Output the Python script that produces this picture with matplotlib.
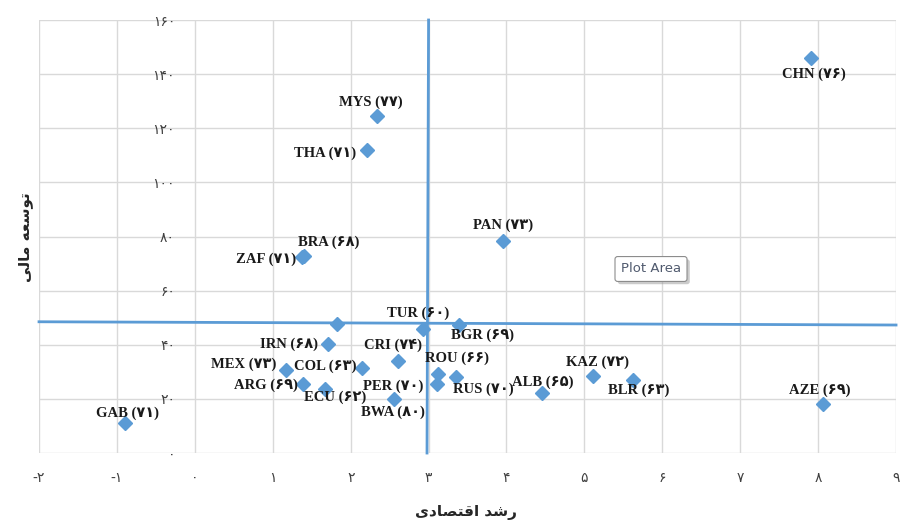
#!/bin/py
#
# financial development vs economic growth scatter (persian labels)
#
import numpy as np
import matplotlib
matplotlib.use('Agg')
import matplotlib.pyplot as plt
import matplotlib.patheffects as pe

# country data: growth (x), financial development (y), score in brackets
codes  = ['CHN','MYS','THA','PAN','BRA','ZAF','TUR','BGR','IRN','CRI','MEX','COL',
          'ROU','RUS','PER','ARG','ECU','BWA','GAB','ALB','KAZ','BLR','AZE','']
growth = [7.91, 2.34, 2.21, 3.96, 1.40, 1.38, 2.93, 3.39, 1.71, 2.61, 1.17, 2.15,
          3.12, 3.35, 3.11, 1.39, 1.67, 2.56, -0.90, 4.46, 5.11, 5.63, 8.06, 1.83]
findev = [145.9, 124.4, 111.9, 78.5, 72.8, 72.5, 45.9, 47.4, 40.4, 34.1, 30.7, 31.5,
          29.3, 28.1, 25.6, 25.6, 23.7, 20.0, 11.1, 22.2, 28.5, 27.0, 18.1, 47.8]
scores = [76, 77, 71, 73, 68, 71, 60, 69, 68, 74, 73, 63,
          66, 70, 70, 69, 62, 80, 71, 65, 72, 63, 69, None]

# average lines
hline_x = [-2, 9]
hline_y = [48.5, 47.3]
vline_x = [3.0, 2.98]
vline_y = [160, 0]

xticks = np.arange(-2, 10, 1)
yticks = np.arange(0, 161, 20)

xlabel = 'رشد اقتصادی'
ylabel = 'توسعه مالی'

# label offsets in pixels (dx, dy, ha)
label_pos = {
    'CHN': (3, -16, 'center'), 'MYS': (-6, 14, 'center'), 'THA': (-11, -3, 'right'),
    'PAN': (0, 15, 'center'), 'BRA': (25, 14, 'center'), 'ZAF': (-6, -2, 'right'),
    'TUR': (-5, 16, 'center'), 'BGR': (24, -11, 'center'), 'IRN': (-10, -1, 'right'),
    'CRI': (-5, 15, 'center'), 'MEX': (-10, 6, 'right'), 'COL': (-6, 2, 'right'),
    'ROU': (19, 15, 'center'), 'RUS': (27, -12, 'center'), 'PER': (-14, -3, 'right'),
    'ARG': (-5, -2, 'right'), 'ECU': (10, -8, 'center'), 'BWA': (-1, -13, 'center'),
    'GAB': (3, 10, 'center'), 'ALB': (0, 11, 'center'), 'KAZ': (5, 14, 'center'),
    'BLR': (5, -10, 'center'), 'AZE': (-3, 14, 'center'),
}

FA_DIGITS = str.maketrans('0123456789', '۰۱۲۳۴۵۶۷۸۹')

# arabic presentation forms: isolated, final, initial, medial
FORMS = {
    'ا': '\uFE8D\uFE8E', 'د': '\uFEA9\uFEAA', 'ر': '\uFEAD\uFEAE', 'و': '\uFEED\uFEEE',
    'ت': '\uFE95\uFE96\uFE97\uFE98', 'س': '\uFEB1\uFEB2\uFEB3\uFEB4',
    'ش': '\uFEB5\uFEB6\uFEB7\uFEB8', 'ص': '\uFEB9\uFEBA\uFEBB\uFEBC',
    'ع': '\uFEC9\uFECA\uFECB\uFECC', 'ق': '\uFED5\uFED6\uFED7\uFED8',
    'ل': '\uFEDD\uFEDE\uFEDF\uFEE0', 'م': '\uFEE1\uFEE2\uFEE3\uFEE4',
    'ه': '\uFEE9\uFEEA\uFEEB\uFEEC', 'ی': '\uFBFC\uFBFD\uFBFE\uFBFF',
}


def fa(n):
    return str(n).translate(FA_DIGITS)


def shape(s):
    # matplotlib has no arabic shaping, do it by hand and reverse for LTR drawing
    out = []
    for i, ch in enumerate(s):
        if ch not in FORMS:
            out.append(ch)
            continue
        f = FORMS[ch]
        prev = s[i-1] if i > 0 else ''
        nxt = s[i+1] if i+1 < len(s) else ''
        jp = prev in FORMS and len(FORMS[prev]) == 4
        jn = nxt in FORMS and len(f) == 4
        if jp and jn:
            out.append(f[3])
        elif jp:
            out.append(f[1])
        elif jn:
            out.append(f[2])
        else:
            out.append(f[0])
    return ''.join(reversed(out))


#
# main function: execute
#
def main():

    fig = plt.figure(figsize=(9.01, 5.25), dpi=100)
    ax = fig.add_axes([0.0433, 0.1371, 0.9512, 0.8248])

    blue = '#5b9bd5'
    tick_col = '#404040'

    ax.set_xlim(-2, 9)
    ax.set_ylim(0, 160)
    ax.set_xticks(xticks)
    ax.set_yticks(yticks)
    ax.set_xticklabels([fa(t) if t >= 0 else '-' + fa(-t) for t in xticks])
    ax.set_yticklabels([fa(t) for t in yticks])
    ax.grid(color='#d9d9d9', linewidth=1.0)
    ax.set_axisbelow(True)

    for s in ['top', 'right', 'bottom']:
        ax.spines[s].set_visible(False)
    ax.spines['left'].set_position(('data', -0.2))
    ax.spines['left'].set_color('none')

    ax.tick_params(axis='x', length=0, pad=13, labelsize=10, labelcolor=tick_col)
    ax.tick_params(axis='y', length=0, pad=3, labelsize=10, labelcolor=tick_col)

    # average lines
    ax.plot(hline_x, hline_y, color=blue, linewidth=2.0, zorder=2, clip_on=False)
    ax.plot(vline_x, vline_y, color=blue, linewidth=2.0, zorder=2, clip_on=False)

    # points
    ax.plot(growth, findev, linestyle='none', marker='D', markersize=7.5,
            color=blue, zorder=3)

    # labels
    for c, x, y, sc in zip(codes, growth, findev, scores):
        if not c:
            continue
        dx, dy, ha = label_pos[c]
        ax.annotate('%s (%s)' % (c, fa(sc)), xy=(x, y), xytext=(dx, dy),
                    textcoords='offset pixels', ha=ha, va='center',
                    fontsize=10.5, fontweight='bold', color='#1a1a1a',
                    family=['Liberation Serif', 'DejaVu Sans'], zorder=4)

    # axis titles
    fig.text(0.517, 0.023, shape(xlabel), ha='center', va='center',
             fontsize=11, fontweight='bold', color='#262626')
    fig.text(0.028, 0.549, shape(ylabel), ha='center', va='center',
             fontsize=11, fontweight='bold', color='#262626', rotation=90)

    # excel tooltip with a drop shadow on the box
    tip = fig.text(651/901., 1-269/525., 'Plot Area', ha='center', va='center',
                   fontsize=9.5, color='#505a6e',
                   bbox=dict(boxstyle='round,pad=0.45,rounding_size=0.2',
                             facecolor='white', edgecolor='#8c8c8c', linewidth=0.8))
    tip.get_bbox_patch().set_path_effects(
        [pe.withSimplePatchShadow(offset=(2, -2), shadow_rgbFace='#999999', alpha=0.5)])

    plt.savefig('out.png', dpi=100)

#
# EXECUTE
#
main()
